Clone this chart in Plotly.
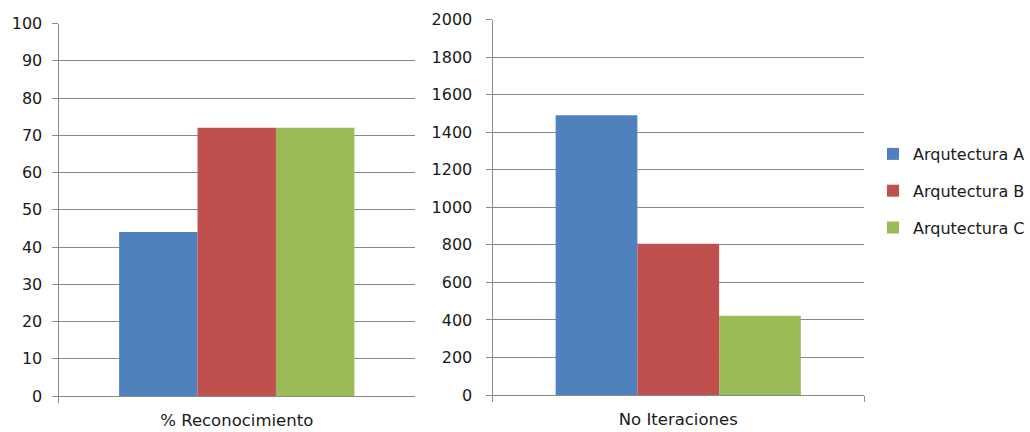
import plotly.graph_objects as go
from plotly.subplots import make_subplots

# datos
series = ['Arqutectura A', 'Arqutectura B', 'Arqutectura C']
colores = ['#4F81BD', '#C0504D', '#9BBB59']
reconocimiento = [44, 72, 72]
iteraciones = [1490, 805, 422]
cat_izq = ['% Reconocimiento']
cat_der = ['No Iteraciones']

W, H = 1030, 432
fig = make_subplots(rows=1, cols=2)

for i, nombre in enumerate(series):
    fig.add_trace(go.Bar(x=cat_izq, y=[reconocimiento[i]], name=nombre,
                         marker=dict(color=colores[i], line=dict(width=0)),
                         legendgroup=nombre, showlegend=True), row=1, col=1)
    fig.add_trace(go.Bar(x=cat_der, y=[iteraciones[i]], name=nombre,
                         marker=dict(color=colores[i], line=dict(width=0)),
                         legendgroup=nombre, showlegend=False), row=1, col=2)

gris = '#8a8a8a'
fuente = dict(family='DejaVu Sans', size=16, color='#1a1a1a')
eje_x = dict(showline=True, linecolor=gris, linewidth=1, ticks='outside',
             tickson='boundaries', ticklen=6, tickcolor=gris, automargin=False,
             ticklabelstandoff=9, tickfont=dict(fuente, size=16.5), showgrid=False)
eje_y = dict(showline=True, linecolor=gris, linewidth=1, ticks='outside',
             ticklen=6, tickcolor=gris, showgrid=True, gridcolor=gris,
             gridwidth=1, tickfont=fuente, zeroline=False, automargin=False)

fig.update_xaxes(**eje_x)
fig.update_yaxes(**eje_y)
fig.update_layout(
    xaxis=dict(domain=[58.5 / W, 415 / W]),
    xaxis2=dict(domain=[492.5 / W, 864 / W]),
    yaxis=dict(domain=[1 - 396 / H, 1 - 23.5 / H], range=[0, 100], dtick=10,
               ticklabelstandoff=6),
    yaxis2=dict(domain=[1 - 395 / H, 1 - 19.5 / H], range=[0, 2000], dtick=200,
                ticklabelstandoff=10),
    barmode='group', bargap=0.34, bargroupgap=0,
    width=W, height=H, margin=dict(l=0, r=0, t=0, b=0),
    plot_bgcolor='white', paper_bgcolor='white',
    font=fuente,
    legend=dict(x=873 / W, y=1 - 137 / H, xanchor='left', yanchor='top',
                font=fuente, tracegroupgap=13, itemwidth=30),
)

# quitar el margen por defecto del <body> para que la figura empiece en (0, 0)
fig.write_html("out.html", config={'displayModeBar': False},
               post_script="document.body.style.margin='0';")
